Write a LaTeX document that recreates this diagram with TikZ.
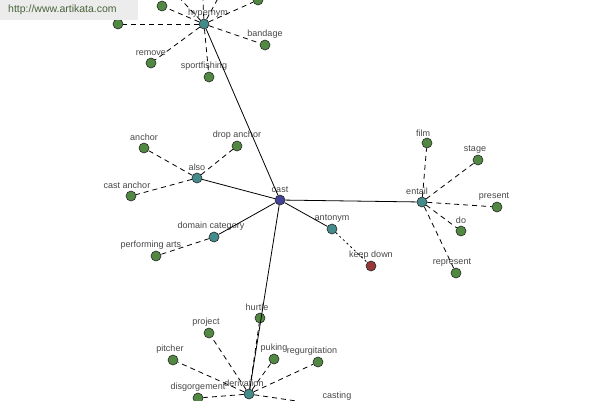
\documentclass[tikz,border=0pt]{standalone}
\usepackage{fontspec}
\setmainfont{Liberation Sans}
\definecolor{leafgreen}{RGB}{82,137,66}
\definecolor{hubteal}{RGB}{68,140,140}
\definecolor{maindot}{RGB}{66,66,150}
\definecolor{oppdot}{RGB}{150,56,56}
\definecolor{lblgray}{RGB}{70,70,70}
\definecolor{urlgreen}{RGB}{72,100,58}
\definecolor{urlbg}{RGB}{236,236,236}
\tikzset{
  dot/.style={circle, draw=black!85, line width=0.6pt, minimum size=10pt, inner sep=0pt},
  leaf/.style={dot, fill=leafgreen},
  hub/.style={dot, fill=hubteal},
  lbl/.style={font=\fontsize{9}{10}\selectfont, text=lblgray, inner sep=0.5pt},
  every label/.style={lbl},
  rel/.style={line width=0.8pt, dash pattern=on 5pt off 4pt},
  link/.style={line width=0.8pt},
}
\begin{document}
\begin{tikzpicture}[x=1pt,y=-1pt]
        \useasboundingbox (0,0) rectangle (600,400);
        \clip (0,0) rectangle (600,400);
        % centre
        \node[dot, fill=maindot, label={[label distance=1pt]above:cast}] (cast) at (280,200) {};
        % hypernym
        \node[hub, label={[label distance=1pt, xshift=4pt]above:hypernym}] (hyper) at (204,24) {};
        \node[leaf] (hypA) at (118,24) {};
        \node[leaf] (hypB) at (162,6) {};
        \node[leaf] (hypC) at (170,-12) {};
        \node[leaf] (hypD) at (202,-22) {};
        \node[leaf] (hypE) at (228,-20) {};
        \node[leaf] (hypF) at (258,0) {};
        \node[leaf, label={[label distance=1pt]above:bandage}] (bandage) at (265,45) {};
        \node[leaf, label={[label distance=1pt]above:remove}] (remove) at (151,63) {};
        \node[leaf, label={[label distance=1pt, xshift=-5pt]above:sportfishing}] (sportfishing) at (209,77) {};
        % also
        \node[hub, label={[label distance=1pt]above:also}] (also) at (197,178) {};
        \node[leaf, label={[label distance=1pt]above:anchor}] (anchor) at (144,148) {};
        \node[leaf, label={[label distance=1pt]above:drop anchor}] (dropanchor) at (237,146) {};
        \node[leaf, label={[label distance=1pt, xshift=-4pt]above:cast anchor}] (castanchor) at (131,196) {};
        % domain category
        \node[hub, label={[label distance=1pt, xshift=-3pt]above:domain category}] (domain) at (214,237) {};
        \node[leaf, label={[label distance=1pt, xshift=-5pt]above:performing arts}] (perfarts) at (156,256) {};
        % antonym
        \node[hub, label={[label distance=1pt]above:antonym}] (antonym) at (332,229) {};
        \node[dot, fill=oppdot, label={[label distance=1pt]above:keep down}] (keepdown) at (371,266) {};
        % entail
        \node[hub, label={[label distance=1pt, xshift=-5pt]above:entail}] (entail) at (422,202) {};
        \node[leaf, label={[label distance=1pt, xshift=-4pt]above:film}] (film) at (427,143) {};
        \node[leaf, label={[label distance=1pt, xshift=-3pt]above:stage}] (stage) at (478,160) {};
        \node[leaf, label={[label distance=1pt, xshift=-3pt]above:present}] (present) at (497,207) {};
        \node[leaf, label={[label distance=1pt]above:do}] (do) at (461,231) {};
        \node[leaf, label={[label distance=1pt, xshift=-4pt]above:represent}] (represent) at (456,273) {};
        % derivation
        \node[hub, label={[label distance=1pt, xshift=-5pt]above:derivation}] (deriv) at (249,394) {};
        \node[leaf, label={[label distance=1pt, xshift=-3pt]above:hurtle}] (hurtle) at (260,318) {};
        \node[leaf, label={[label distance=1pt, xshift=-3pt]above:project}] (project) at (209,333) {};
        \node[leaf, label={[label distance=1pt, xshift=-3pt]above:pitcher}] (pitcher) at (173,360) {};
        \node[leaf, label={[label distance=1pt]above:puking}] (puking) at (274,359) {};
        \node[leaf, label={[label distance=1pt, xshift=-6pt]above:regurgitation}] (regurg) at (318,362) {};
        \node[leaf, label={[label distance=1pt]above:disgorgement}] (disgorge) at (198,398) {};
        \node[leaf, label={[label distance=1pt]above:casting}] (casting) at (337,407) {};

        % links from the centre
        \draw[link] (cast) -- (hyper);
        \draw[link] (cast) -- (also);
        \draw[link] (cast) -- (domain);
        \draw[link] (cast) -- (antonym);
        \draw[link] (cast) -- (entail);
        \draw[link] (cast) -- (deriv);
        % relations
        \foreach \n in {hypA,hypB,hypC,hypD,hypE,hypF,bandage,remove,sportfishing}
            \draw[rel] (hyper) -- (\n);
        \foreach \n in {anchor,dropanchor,castanchor}
            \draw[rel] (also) -- (\n);
        \draw[rel] (domain) -- (perfarts);
        \draw[line width=0.8pt, dash pattern=on 2pt off 3pt] (antonym) -- (keepdown);
        \foreach \n in {film,stage,present,do,represent}
            \draw[rel] (entail) -- (\n);
        \foreach \n in {hurtle,project,pitcher,puking,regurg,disgorge,casting}
            \draw[rel] (deriv) -- (\n);

        % site tag
        \fill[urlbg] (0,0) rectangle (138,20);
        \node[anchor=west, font=\fontsize{10.5}{12}\selectfont, text=urlgreen, inner sep=0pt] (url) at (8,10) {http://www.artikata.com};
\end{tikzpicture}
\end{document}
